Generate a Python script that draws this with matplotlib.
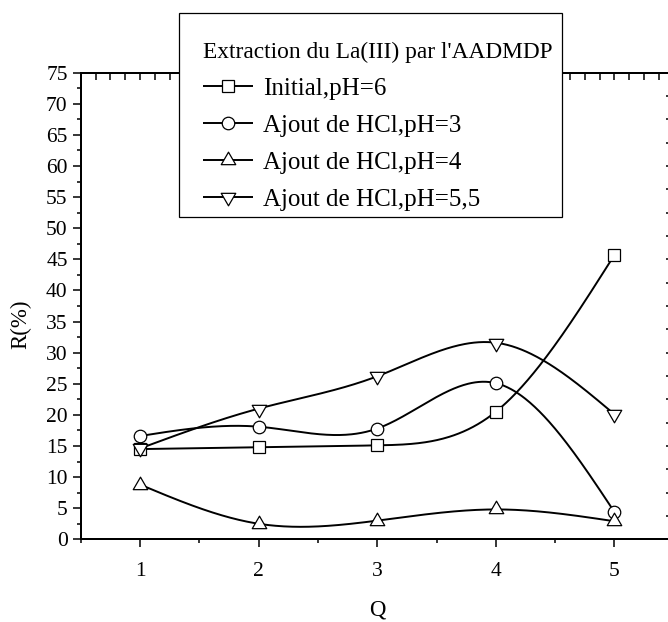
import numpy as np
import matplotlib
matplotlib.use("Agg")
import matplotlib.pyplot as plt
from matplotlib.path import Path
from matplotlib.patches import Rectangle

plt.rcParams["font.family"] = ["Liberation Serif", "DejaVu Serif"]

# Extraction yield R(%) versus Q for each acidification condition
q = [1, 2, 3, 4, 5]
r_initial = [14.5, 14.8, 15.1, 20.5, 45.7]
r_ph3 = [16.6, 18.1, 17.8, 25.1, 4.4]
r_ph4 = [8.8, 2.5, 3.0, 4.8, 2.9]
r_ph55 = [14.6, 21.0, 26.2, 31.6, 20.1]

labels = ["Initial,pH=6", "Ajout de HCl,pH=3", "Ajout de HCl,pH=4", "Ajout de HCl,pH=5,5"]
legend_title = "Extraction du La(III) par l'AADMDP"
x_ticks = [1, 2, 3, 4, 5]
y_ticks = list(range(0, 80, 5))


def spline_curve(x, y, n=400):
    """Natural cubic spline through the points, for a smooth connecting line."""
    x = np.asarray(x, float)
    y = np.asarray(y, float)
    k = len(x)
    h = np.diff(x)
    A = np.zeros((k, k))
    b = np.zeros(k)
    A[0, 0] = A[-1, -1] = 1.0
    for i in range(1, k - 1):
        A[i, i - 1] = h[i - 1]
        A[i, i] = 2 * (h[i - 1] + h[i])
        A[i, i + 1] = h[i]
        b[i] = 6 * ((y[i + 1] - y[i]) / h[i] - (y[i] - y[i - 1]) / h[i - 1])
    M = np.linalg.solve(A, b)
    xs = np.linspace(x[0], x[-1], n)
    idx = np.clip(np.searchsorted(x, xs) - 1, 0, k - 2)
    x0, x1 = x[idx], x[idx + 1]
    hh = x1 - x0
    t0, t1 = x1 - xs, xs - x0
    ys = ((M[idx] * t0 ** 3 + M[idx + 1] * t1 ** 3) / (6 * hh)
          + (y[idx] / hh - M[idx] * hh / 6) * t0
          + (y[idx + 1] / hh - M[idx + 1] * hh / 6) * t1)
    return xs, ys


# triangles anchored on their centroid
tri_w, tri_h = 14.5, 12.5
tri_up = Path([(0, 2 * tri_h / 3), (-tri_w / 2, -tri_h / 3), (tri_w / 2, -tri_h / 3),
               (0, 2 * tri_h / 3)], closed=True)
tri_down = Path([(0, -2 * tri_h / 3), (-tri_w / 2, tri_h / 3), (tri_w / 2, tri_h / 3),
                 (0, -2 * tri_h / 3)], closed=True)

W, H = 668, 622
fig = plt.figure(figsize=(W / 100, H / 100), dpi=100)
x_left, x_right = 80.7, 673.7
y_top, y_bot = 72.7, 539.3
ax = fig.add_axes([x_left / W, 1 - y_bot / H, (x_right - x_left) / W, (y_bot - y_top) / H])

series = [
    (r_initial, dict(marker="s", markersize=8.2)),
    (r_ph3, dict(marker="o", markersize=9.0)),
    (r_ph4, dict(marker=tri_up, markersize=12.0)),
    (r_ph55, dict(marker=tri_down, markersize=12.0)),
]

handles = []
for vals, mk in series:
    xs, ys = spline_curve(q, vals)
    (ln,) = ax.plot(xs, ys, color="black", lw=1.4, solid_capstyle="butt")
    (pts,) = ax.plot(q, vals, linestyle="none", markerfacecolor="white",
                     markeredgecolor="black", markeredgewidth=0.9, **mk)
    handles.append((ln, pts))

ax.set_xlim(0.5, 5.5)
ax.set_ylim(0, 75)
ax.set_xticks(x_ticks)
ax.set_xticks(np.arange(0.5, 5.6, 1.0), minor=True)
ax.set_yticks(y_ticks)
ax.set_yticks(np.arange(2.5, 75, 5.0), minor=True)
ax.tick_params(axis="both", which="major", direction="out", length=6, width=1.1,
               labelsize=15.5)
ax.tick_params(axis="both", which="minor", direction="out", length=3, width=1.1)
ax.tick_params(axis="x", which="major", pad=10.5)
ax.tick_params(axis="y", which="major", pad=3.4)
for sp in ax.spines.values():
    sp.set_linewidth(1.4)

ax.set_xlabel("Q", fontsize=16.5, labelpad=13)
ax.set_ylabel("R(%)", fontsize=16.5)
ax.yaxis.set_label_coords(-0.083, 0.4614)

# finely ticked top and right axes
ax_top = ax.twiny()
ax_top.set_xlim(0.5, 5.5)
ax_top.set_xticks(np.arange(0.5, 5.5001, 0.125))
ax_top.tick_params(axis="x", direction="in", length=5, width=1.1, labeltop=False)
ax_right = ax.twinx()
ax_right.set_ylim(0, 75)
ax_right.set_yticks(np.linspace(0, 75, 21))
ax_right.tick_params(axis="y", direction="in", length=6, width=1.1, labelright=False)
for a in (ax_top, ax_right):
    for sp in a.spines.values():
        sp.set_linewidth(1.4)

# legend box
bx0, bx1, by0, by1 = 179.3, 561.7, 13.3, 216.7
fig.add_artist(Rectangle((bx0 / W, 1 - by1 / H), (bx1 - bx0) / W, (by1 - by0) / H,
                         transform=fig.transFigure, facecolor="white",
                         edgecolor="black", linewidth=0.9, zorder=4))
fig.legend(handles, labels, loc="upper left", bbox_to_anchor=(203.3 / W, 1 - 42 / H),
           frameon=False, borderpad=0, borderaxespad=0, fontsize=18,
           title=legend_title, title_fontsize=16.8, alignment="left",
           handlelength=2.0, handletextpad=0.4, labelspacing=0.58)

fig.savefig("out.png", dpi=100)
